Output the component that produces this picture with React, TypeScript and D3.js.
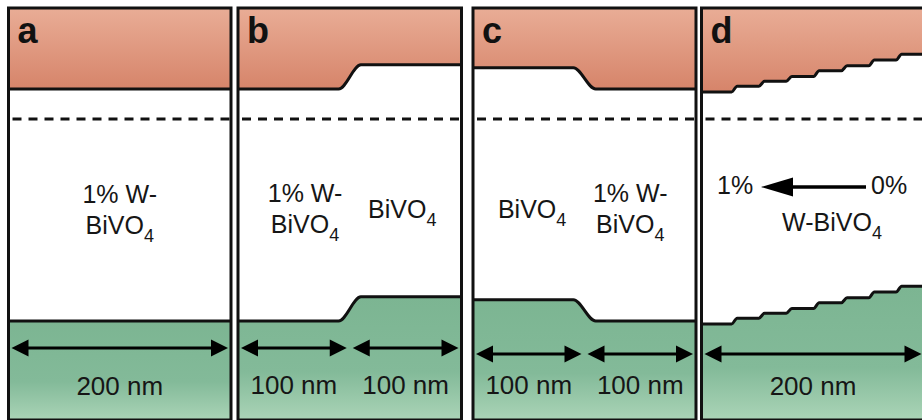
import React from 'react';
import * as d3 from 'd3';

// Panel tags
const panelLabels = ['a', 'b', 'c', 'd'];

// Layer thicknesses (nm) and conduction-band edge (eV vs. Fermi level) for each junction
const layersA_nm = [200];
const layersA_cb = [0.31];
const layersB_nm = [100, 100];
const layersB_cb = [0.31, 0.56];
const layersC_nm = [100, 100];
const layersC_cb = [0.53, 0.31];
const layersD_nm = [29.5, 24.5, 24.5, 24.5, 25, 24.5, 24.5, 23];
const layersD_cb = [0.28, 0.34, 0.39, 0.44, 0.5, 0.55, 0.61, 0.67];

const bandGap = 2.4; // eV
const fermiLevel = 0; // eV

// Thickness dimension spans (nm)
const spansA = [200];
const spansB = [100, 100];
const spansC = [100, 100];
const spansD = [200];

const W = 922;
const H = 420;
const FONT = "'Liberation Sans', Arial, Helvetica, sans-serif";
const TOP = 8;
const BOTTOM = 420;
const panelBox: [number, number][] = [
  [8.5, 231],
  [238, 461.5],
  [473, 696],
  [701.5, 924.5],
];
const arrowY = [348, 348, 354, 354];
const dimTextY = [395, 394, 394, 395];
const LABEL_SIZE = 25;
const DIM_SIZE = 26;
const INK = '#161616';

const yE = d3.scaleLinear().domain([fermiLevel, fermiLevel - bandGap]).range([119, 351]);

type Panel = {
  nm: number[];
  cb: number[];
  spans: number[];
  transition: number;
  labels: { nm: number; y: number; lines: string[] }[];
};

const panels: Panel[] = [
  { nm: layersA_nm, cb: layersA_cb, spans: spansA, transition: 0, labels: [{ nm: 100, y: 203, lines: ['1% W-', 'BiVO4'] }] },
  {
    nm: layersB_nm, cb: layersB_cb, spans: spansB, transition: 20,
    labels: [
      { nm: 60, y: 202, lines: ['1% W-', 'BiVO4'] },
      { nm: 147, y: 218, lines: ['BiVO4'] },
    ],
  },
  {
    nm: layersC_nm, cb: layersC_cb, spans: spansC, transition: 20,
    labels: [
      { nm: 53, y: 218, lines: ['BiVO4'] },
      { nm: 141, y: 202, lines: ['1% W-', 'BiVO4'] },
    ],
  },
  { nm: layersD_nm, cb: layersD_cb, spans: spansD, transition: 5, labels: [] },
];

function profile(nm: number[], cb: number[], tw: number) {
  const pts: { x: number; e: number }[] = [];
  let s = 0;
  nm.forEach((w, i) => {
    const e = s + w;
    const a = i > 0 ? s + tw / 2 : s;
    const b = i < nm.length - 1 ? e - tw / 2 : e;
    pts.push({ x: a, e: cb[i] });
    pts.push({ x: b, e: cb[i] });
    s = e;
  });
  return pts;
}

function Formula({ x, y, text, size = LABEL_SIZE }: { x: number; y: number; text: string; size?: number }) {
  const m = text.match(/^(.*?)(\d)$/);
  return (
    <text x={x} y={y} textAnchor="middle" fontFamily={FONT} fontSize={size} fill={INK}>
      {m ? (
        <>
          {m[1]}
          <tspan fontSize={size * 0.72} dy={8}>{m[2]}</tspan>
        </>
      ) : (
        text
      )}
    </text>
  );
}

function DimArrow({ x1, x2, y }: { x1: number; x2: number; y: number }) {
  const hl = 17;
  const hw = 8.5;
  return (
    <g>
      <line x1={x1 + hl - 2} x2={x2 - hl + 2} y1={y} y2={y} stroke="#000" strokeWidth={3.2} />
      <path d={`M${x1},${y}L${x1 + hl},${y - hw}L${x1 + hl},${y + hw}Z`} fill="#000" />
      <path d={`M${x2},${y}L${x2 - hl},${y - hw}L${x2 - hl},${y + hw}Z`} fill="#000" />
    </g>
  );
}

export default function App() {
  return (
    <svg width={W} height={H} style={{ position: 'absolute', left: 0, top: 0, background: '#fff' }}>
      <defs>
        <linearGradient id="cbGrad" x1="0" y1="0" x2="0" y2="1">
          <stop offset="0%" stopColor="#e9ad96" />
          <stop offset="100%" stopColor="#d6846a" />
        </linearGradient>
        <linearGradient id="vbGrad" x1="0" y1="0" x2="0" y2="1">
          <stop offset="0%" stopColor="#7cb592" />
          <stop offset="60%" stopColor="#83ba99" />
          <stop offset="100%" stopColor="#acd5b8" />
        </linearGradient>
        {panelBox.map(([l, r], i) => (
          <clipPath id={`clip${i}`} key={i}>
            <rect x={l} y={TOP} width={r - l} height={BOTTOM - TOP} />
          </clipPath>
        ))}
      </defs>
      {panels.map((p, i) => {
        const [l, r] = panelBox[i];
        const x = d3.scaleLinear().domain([0, 200]).range([l, r]);
        const pts = profile(p.nm, p.cb, p.transition);
        const cbLine = d3.line<{ x: number; e: number }>().x((d) => x(d.x)).y((d) => yE(d.e)).curve(d3.curveMonotoneX);
        const vbLine = d3.line<{ x: number; e: number }>().x((d) => x(d.x)).y((d) => yE(d.e - bandGap)).curve(d3.curveMonotoneX);
        const cbArea = d3.area<{ x: number; e: number }>().x((d) => x(d.x)).y0(TOP).y1((d) => yE(d.e)).curve(d3.curveMonotoneX);
        const vbArea = d3.area<{ x: number; e: number }>().x((d) => x(d.x)).y0((d) => yE(d.e - bandGap)).y1(BOTTOM + 2).curve(d3.curveMonotoneX);
        let acc = 0;
        const spans = p.spans.map((w) => {
          const s = acc;
          acc += w;
          return [s, acc];
        });
        return (
          <g key={i}>
            <g clipPath={`url(#clip${i})`}>
              <rect x={l} y={TOP} width={r - l} height={BOTTOM - TOP} fill="#fff" />
              <path d={cbArea(pts) || ''} fill="url(#cbGrad)" />
              <path d={vbArea(pts) || ''} fill="url(#vbGrad)" />
              <path d={cbLine(pts) || ''} fill="none" stroke="#111" strokeWidth={3} />
              <path d={vbLine(pts) || ''} fill="none" stroke="#111" strokeWidth={3} />
              <line x1={l} x2={r} y1={yE(fermiLevel)} y2={yE(fermiLevel)} stroke="#111" strokeWidth={3} strokeDasharray="9,7" strokeDashoffset={-4} />
              {spans.map(([s, e], k) => (
                <g key={k}>
                  <DimArrow x1={x(s) + 3} x2={x(e) - 3} y={arrowY[i]} />
                  <text x={x((s + e) / 2)} y={dimTextY[i]} textAnchor="middle" fontFamily={FONT} fontSize={DIM_SIZE} fill={INK}>
                    {`${e - s} nm`}
                  </text>
                </g>
              ))}
              {p.labels.map((lb, k) =>
                lb.lines.map((t, j) => <Formula key={`${k}-${j}`} x={x(lb.nm)} y={lb.y + j * 31} text={t} />)
              )}
              <text x={l + 9} y={43} fontFamily={FONT} fontWeight="bold" fontSize={36} fill="#111">
                {panelLabels[i]}
              </text>
            </g>
            <rect x={l} y={TOP} width={r - l} height={BOTTOM - TOP} fill="none" stroke="#111" strokeWidth={3} />
          </g>
        );
      })}
      {/* graded-doping annotation */}
      <g>
        <text x={717} y={194} fontFamily={FONT} fontSize={LABEL_SIZE} fill={INK}>1%</text>
        <line x1={790} x2={866} y1={187} y2={187} stroke="#000" strokeWidth={3.5} />
        <path d="M761,187L793,177.5L793,196.5Z" fill="#000" />
        <text x={871} y={194} fontFamily={FONT} fontSize={LABEL_SIZE} fill={INK}>0%</text>
        <Formula x={832} y={231} text="W-BiVO4" />
      </g>
    </svg>
  );
}
